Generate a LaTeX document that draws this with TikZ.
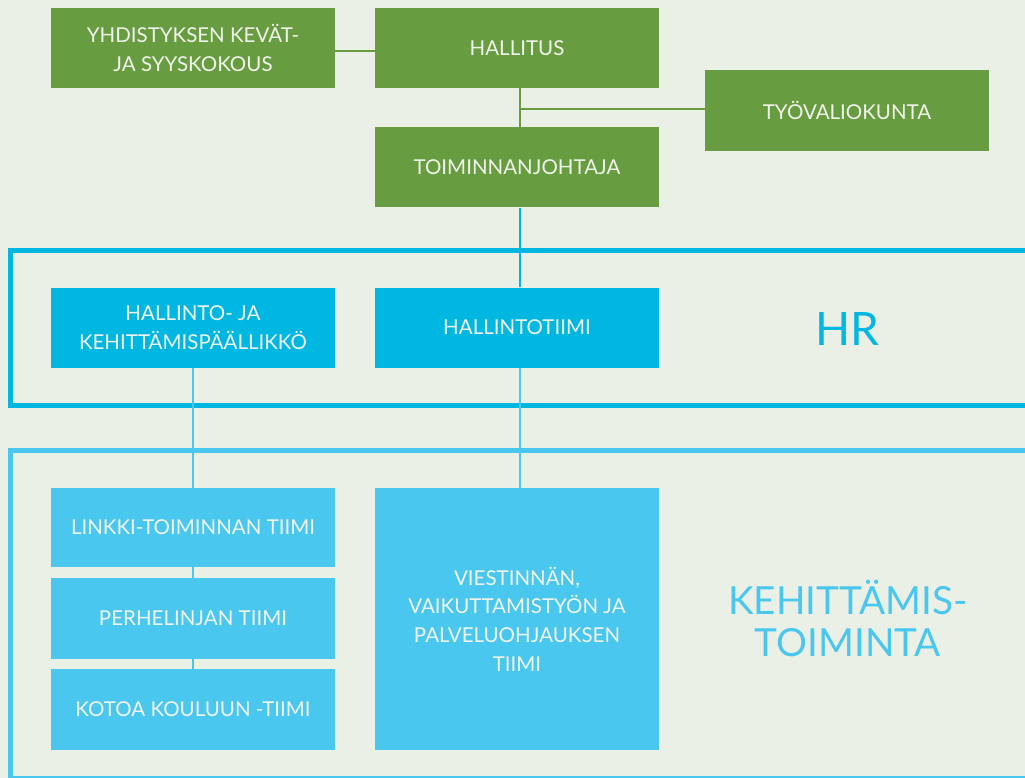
\documentclass[tikz,border=0pt]{standalone}
\usepackage{fontspec}
\setmainfont{Lato}
\definecolor{bg}{HTML}{EBF0E6}
\definecolor{grn}{HTML}{689C41}
\definecolor{hrb}{HTML}{00B7E1}
\definecolor{ltb}{HTML}{4AC7EE}
\definecolor{txt}{HTML}{F0F5EC}
\begin{document}
\begin{tikzpicture}[x=1pt,y=-1pt,
  box/.style={minimum width=284pt, inner sep=0pt, align=center, text=txt,
    font=\fontsize{20.5}{28.7}\selectfont},
  gbox/.style={box, fill=grn, minimum height=80pt},
  bbox/.style={box, fill=hrb, minimum height=80pt},
  lbox/.style={box, fill=ltb},
  gline/.style={draw=grn, line width=2pt},
  bline/.style={draw=hrb, line width=2pt},
  lline/.style={draw=ltb, line width=2pt},
  hrframe/.style={draw=hrb, line width=5pt},
  kframe/.style={draw=ltb, line width=5pt},
  biglabel/.style={align=center}
]
\useasboundingbox[fill=bg] (0,0) rectangle (1025,778);
% frames
\draw[hrframe] (1035,250.5) -- (10.5,250.5) -- (10.5,405) -- (1035,405);
\draw[kframe] (1035,450.8) -- (10.5,450.8) -- (10.5,778) -- (1035,778);
% boxes
\node[gbox] (yh) at (193,48) {YHDISTYKSEN KEVÄT-\\JA SYYSKOKOUS};
\node[gbox] (hal) at (517,48) {HALLITUS};
\node[gbox, minimum height=81pt] (tyo) at (847,110.5) {TYÖVALIOKUNTA};
\node[gbox] (tj) at (517,167.5) {TOIMINNANJOHTAJA};
\node[bbox] (hp) at (193,327.5) {HALLINTO- JA\\KEHITTÄMISPÄÄLLIKKÖ};
\node[bbox] (ht) at (517,327.5) {HALLINTOTIIMI};
\node[lbox, minimum height=79pt] (lk) at (193,527.5) {LINKKI-TOIMINNAN TIIMI};
\node[lbox, minimum height=81pt] (ph) at (193,618.5) {PERHELINJAN TIIMI};
\node[lbox, minimum height=81pt] (kk) at (193,709.5) {KOTOA KOULUUN -TIIMI};
\node[lbox, minimum height=262pt] (vt) at (517,619) {VIESTINNÄN,\\VAIKUTTAMISTYÖN JA\\PALVELUOHJAUKSEN\\TIIMI};
% big labels
\node[biglabel, text=hrb, font=\fontsize{46}{50}\selectfont] (hr) at (847,329) {HR};
\node[biglabel, text=ltb, font=\fontsize{38.7}{42}\selectfont] (kt) at (848,618) {KEHITTÄMIS-\\TOIMINTA};
% connectors
\coordinate (j) at ([xshift=3pt]hal.south |- tyo.west);
\draw[gline] ([yshift=-3pt]yh.east) -- ([yshift=-3pt]hal.west);
\draw[gline] ([xshift=3pt]hal.south) -- ([xshift=3pt]tj.north);
\draw[gline] ([yshift=1pt]j) -- ([yshift=1pt]tyo.west);
\draw[bline] ([xshift=3pt]tj.south) -- ([xshift=3pt]ht.north);
\draw[lline] ([xshift=3pt]ht.south) -- ([xshift=3pt]vt.north);
\draw[lline] (hp.south) -- (lk.north);
\draw[lline] (lk.south) -- (ph.north);
\draw[lline] (ph.south) -- (kk.north);
\end{tikzpicture}
\end{document}
